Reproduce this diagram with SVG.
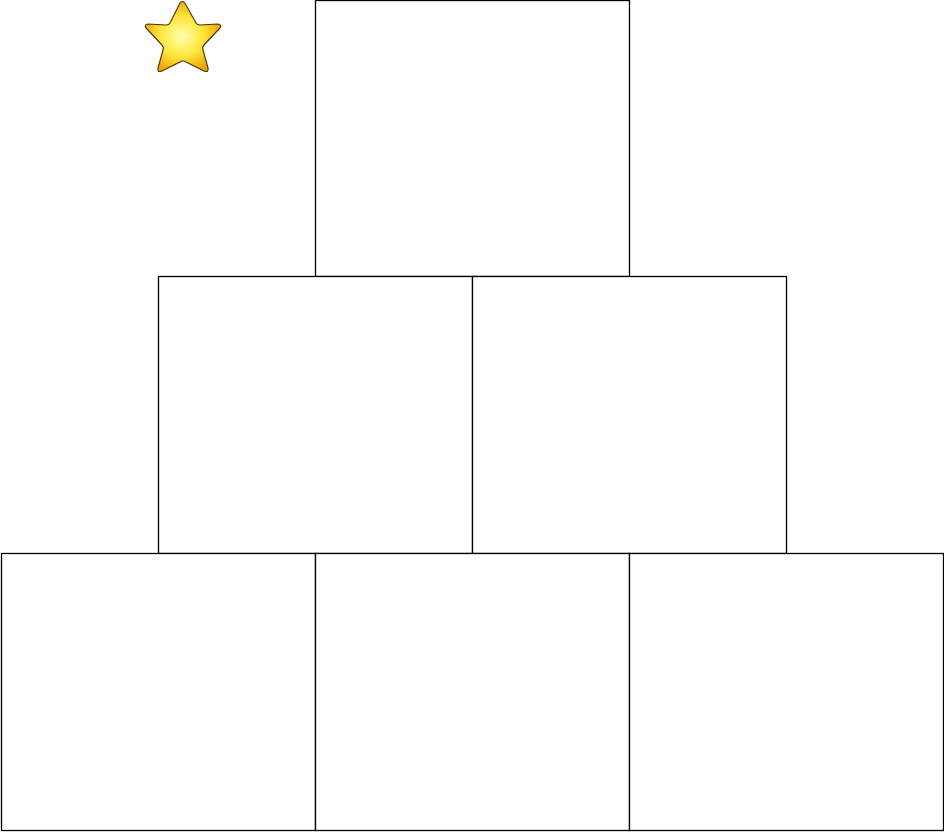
<svg xmlns="http://www.w3.org/2000/svg" width="944" height="834" viewBox="0 0 944 834">
<style>
.box{fill:#ffffff;stroke:#000000;stroke-width:1.3}
</style>
<defs>
<radialGradient id="sg" cx="0.48" cy="0.5" r="0.55">
<stop offset="0" stop-color="#ffffb0"/>
<stop offset="0.5" stop-color="#ffe840"/>
<stop offset="1" stop-color="#eaa000"/>
</radialGradient>
</defs>
<rect width="944" height="834" fill="#ffffff"/>
<g id="box-top"><rect class="box" x="315.5" y="0.5" width="314" height="276"/></g>
<g id="box-mid-left"><rect class="box" x="158.5" y="276.5" width="314" height="277"/></g>
<g id="box-mid-right"><rect class="box" x="472.5" y="276.5" width="314" height="277"/></g>
<g id="box-bot-left"><rect class="box" x="1.5" y="553.5" width="314" height="277"/></g>
<g id="box-bot-mid"><rect class="box" x="315.5" y="553.5" width="314" height="277"/></g>
<g id="box-bot-right"><rect class="box" x="629.5" y="553.5" width="314" height="277"/></g>
<g id="star">
<path d="M182,1.5 Q184,1 186,5 L196,23 Q197,25 200,25 L218,24 Q223,25 219,29 L204,45 Q202,47 203,50 L208,68 Q209,73 204,71 L186,62 Q183,60 180,62 L162,71 Q157,73 158,68 L163,50 Q164,47 162,45 L147,29 Q143,25 148,24 L166,25 Q169,25 170,23 L179,5 Q180,1.5 182,1.5 Z" fill="url(#sg)" stroke="#4a3300" stroke-width="1.1"/>
</g>
</svg>
